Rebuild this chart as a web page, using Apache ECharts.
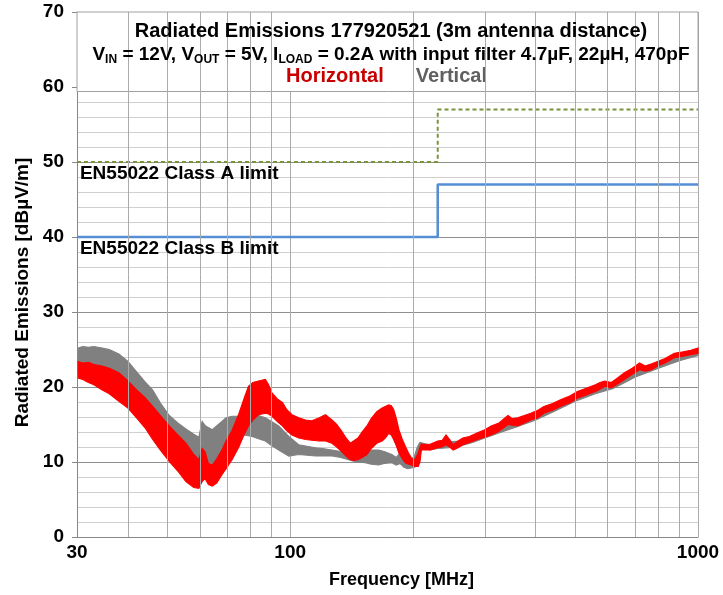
<!DOCTYPE html>
<html>
<head>
<meta charset="utf-8">
<script src="https://cdn.jsdelivr.net/npm/echarts@6/dist/echarts.min.js"></script>
<style>
html,body{margin:0;padding:0;background:#fff;}
#chart{width:723px;height:595px;}
</style>
</head>
<body>
<div id="chart"></div>
<script>
// ---------- data ----------
const xTicks = [30, 100, 1000];
const minorFreqs = [40, 50, 60, 70, 80, 90, 200, 300, 400, 500, 600, 700, 800, 900];

const classAFreq = [30, 230, 230, 1000];
const classALevel = [50, 50, 57, 57];
const classBFreq = [30, 230, 230, 1000];
const classBLevel = [40, 40, 47, 47];

const redFreq = [30.2, 31, 32, 33, 34.6, 36, 38, 40, 42, 44, 46, 48, 50.5, 53, 55.5, 58, 59.7, 60.8, 61.8, 63, 64.4, 66, 68, 69.6, 72, 74.8, 77, 79, 81, 83.6, 86.9, 88.5, 90.2, 93, 95.8, 98, 101, 105, 109, 113, 117.8, 122, 126.6, 130, 133.8, 137, 140.4, 143, 146.6, 150, 154.2, 158, 163, 168, 171, 174.4, 177, 179.3, 182, 184.7, 188, 191.5, 195, 198.5, 202, 206, 208, 209.7, 215, 221, 230, 236, 241, 246, 251, 258, 265, 275, 288, 300, 311, 325, 342, 350, 361, 375, 389, 405, 419, 440, 460, 485, 506, 530, 560, 575, 591, 613, 635, 660, 690, 719, 742, 770, 796, 830, 875, 920, 960, 1000];
const redUpper = [23.4, 23.2, 23.3, 23.0, 22.8, 22.5, 21.9, 20.8, 19.6, 18.6, 17.4, 16.2, 14.8, 13.6, 12.5, 11.0, 10.3, 11.8, 11.4, 9.8, 9.6, 10.4, 11.6, 12.8, 14.2, 16.4, 18.4, 20.1, 20.6, 20.8, 21.0, 20.3, 19.2, 18.4, 17.9, 17.0, 16.3, 15.9, 15.6, 15.5, 15.9, 16.3, 15.6, 15.0, 14.1, 13.2, 12.5, 12.8, 13.2, 14.0, 14.8, 15.8, 16.7, 17.2, 17.4, 17.6, 17.5, 17.0, 15.8, 14.3, 13.1, 12.1, 11.2, 10.5, 10.3, 11.2, 12.0, 12.4, 12.3, 12.4, 12.8, 12.9, 13.6, 13.0, 12.3, 12.8, 13.2, 13.4, 13.9, 14.3, 14.8, 15.2, 16.2, 15.8, 15.9, 16.2, 16.5, 16.9, 17.4, 17.8, 18.3, 18.8, 19.4, 19.8, 20.3, 20.6, 20.8, 20.6, 21.2, 21.9, 22.5, 23.2, 22.8, 23.1, 23.4, 23.8, 24.5, 24.7, 24.9, 25.2];
const redLower = [21.2, 21.0, 20.6, 20.3, 19.6, 19.1, 18.1, 17.2, 15.9, 14.6, 13.0, 11.6, 10.1, 8.8, 7.4, 6.6, 6.5, 7.4, 7.8, 7.0, 6.8, 7.2, 8.3, 9.1, 10.3, 12.0, 13.6, 14.8, 15.6, 16.3, 16.5, 16.4, 16.1, 15.4, 14.8, 14.2, 13.6, 13.2, 13.0, 12.9, 12.8, 12.8, 12.5, 12.0, 11.4, 10.8, 10.3, 10.2, 10.3, 10.6, 11.0, 11.8, 12.5, 12.8, 13.2, 13.8, 13.6, 13.0, 12.2, 11.2, 10.5, 9.9, 9.7, 9.6, 9.4, 9.4, 10.0, 11.6, 11.6, 11.6, 11.9, 12.0, 12.3, 12.0, 11.6, 11.9, 12.3, 12.6, 13.0, 13.3, 13.6, 14.1, 15.0, 14.9, 14.8, 15.2, 15.6, 15.9, 16.5, 16.9, 17.4, 17.9, 18.5, 18.9, 19.4, 19.7, 20.1, 19.9, 20.4, 21.0, 21.7, 22.3, 22.1, 22.3, 22.8, 23.2, 23.9, 24.1, 24.3, 24.5];

const grayFreq = [30.2, 31, 32, 33, 34.6, 36, 38, 40, 42, 44, 46, 48, 50.5, 53, 55.5, 58, 59.7, 60.8, 62, 64.4, 66, 68, 69.6, 72, 74.8, 77, 80.6, 83.6, 86.9, 90, 93.7, 99.2, 104.9, 110, 115.3, 120, 126.6, 133, 139, 145, 152.7, 158, 164.7, 170, 177.5, 182, 186, 190, 194, 198, 202, 205, 208, 212, 220, 230, 245, 260, 280, 300, 330, 360, 400, 450, 500, 560, 620, 700, 800, 900, 1000];
const grayUpper = [25.2, 25.4, 25.3, 25.4, 25.2, 25.0, 24.4, 23.4, 22.0, 20.7, 19.6, 17.9, 16.2, 15.2, 14.4, 13.7, 13.3, 15.4, 14.8, 14.3, 14.8, 15.4, 15.9, 16.1, 16.1, 16.2, 16.3, 16.2, 15.9, 15.4, 14.8, 13.4, 12.3, 12.1, 11.9, 11.8, 11.6, 11.4, 11.2, 11.6, 11.9, 11.6, 11.6, 11.4, 11.0, 10.6, 11.2, 10.4, 10.1, 10.3, 10.9, 12.0, 12.6, 12.5, 12.3, 12.6, 12.7, 12.8, 13.3, 14.0, 14.8, 15.5, 16.4, 17.7, 18.9, 19.9, 20.6, 22.1, 23.3, 24.3, 25.0];
const grayLower = [22.0, 22.5, 22.5, 22.3, 22.0, 21.6, 21.0, 19.8, 18.6, 17.6, 16.4, 15.2, 13.8, 12.6, 11.6, 10.3, 10.0, 10.6, 10.2, 9.6, 10.0, 11.0, 11.8, 12.6, 13.4, 13.6, 13.4, 13.1, 12.8, 12.2, 11.6, 10.8, 11.0, 10.9, 10.8, 10.8, 10.8, 10.6, 10.3, 10.0, 9.9, 9.7, 9.6, 9.8, 9.9, 9.6, 9.8, 9.3, 9.1, 9.2, 9.3, 10.4, 11.5, 11.8, 11.6, 11.8, 11.9, 12.1, 12.6, 13.2, 14.0, 14.7, 15.6, 16.9, 18.1, 19.1, 19.8, 21.3, 22.5, 23.5, 24.2];

// ---------- chart ----------
const FONT = '"Liberation Sans", Arial, sans-serif';
const chart = echarts.init(document.getElementById('chart'));

function bandRenderer(freq, up, lo, color) {
  return function (params, api) {
    if (params.dataIndex !== 0) return null;
    const pts = [];
    for (let i = 0; i < freq.length; i++) pts.push(api.coord([freq[i], up[i]]));
    for (let i = freq.length - 1; i >= 0; i--) pts.push(api.coord([freq[i], lo[i]]));
    return {
      type: 'polygon',
      shape: { points: pts },
      style: { fill: color, stroke: color, lineWidth: 1.2 }
    };
  };
}

const option = {
  animation: false,
  backgroundColor: '#fff',
  textStyle: { fontFamily: FONT },
  grid: { left: 77, right: 25, top: 12, bottom: 58 },
  title: {
    left: 386, top: 15, textAlign: 'center',
    text: '{h|Radiated Emissions 177920521 (3m antenna distance)}\n{b|V}{s|IN}{b| = 12V, V}{s|OUT}{b| = 5V, I}{s|LOAD}{b| = 0.2A with input filter 4.7µF, 22µH, 470pF}',
    textStyle: {
      fontFamily: FONT,
      rich: {
        h: { fontFamily: FONT, fontWeight: 'bold', fontSize: 20, color: '#000', lineHeight: 23 },
        b: { fontFamily: FONT, fontWeight: 'bold', fontSize: 19, color: '#000', lineHeight: 23 },
        s: { fontFamily: FONT, fontWeight: 'bold', fontSize: 12, color: '#000', lineHeight: 23, padding: [10, 0, 0, 0] }
      }
    }
  },
  legend: {
    top: 61, left: 281, itemWidth: 0, itemHeight: 0, itemGap: 32,
    textStyle: { fontFamily: FONT, fontWeight: 'bold', fontSize: 20, padding: [0, 0, 0, -5] },
    data: [
      { name: 'Horizontal', icon: 'none', textStyle: { color: '#C80000' } },
      { name: 'Vertical', icon: 'none', textStyle: { color: '#606060' } }
    ],
    selectedMode: false
  },
  xAxis: {
    type: 'log', logBase: 10, min: 30, max: 1000,
    name: 'Frequency [MHz]', nameLocation: 'middle', nameGap: 34,
    nameTextStyle: { fontFamily: FONT, fontWeight: 'bold', fontSize: 18, color: '#000', padding: [0, 0, 0, 28] },
    axisLine: { show: true, lineStyle: { color: '#888', width: 1 } },
    axisTick: { show: false },
    axisLabel: {
      fontFamily: FONT, fontWeight: 'bold', fontSize: 19, color: '#000', margin: 6,
      formatter: function (v) { const r = Math.round(v); return xTicks.indexOf(r) >= 0 ? String(r) : ''; }
    },
    splitLine: { show: true, lineStyle: { color: '#ABABAB', width: 1 } }
  },
  yAxis: {
    type: 'value', min: 0, max: 70, interval: 10,
    name: 'Radiated Emissions [dBµV/m]', nameLocation: 'middle', nameGap: 45,
    nameTextStyle: { fontFamily: FONT, fontWeight: 'bold', fontSize: 19, color: '#000', padding: [0, 36, 0, 0] },
    axisLine: { show: true, lineStyle: { color: '#888', width: 1 } },
    axisTick: { show: true, length: 5, lineStyle: { color: '#888' } },
    axisLabel: { fontFamily: FONT, fontWeight: 'bold', fontSize: 19, color: '#000', margin: 13 },
    splitLine: { show: true, lineStyle: { color: '#8F8F8F', width: 1 } },
    minorTick: { show: false, splitNumber: 5 },
    minorSplitLine: { show: true, lineStyle: { color: '#D0D0D0', width: 1 } }
  },
  series: [
    {
      name: 'minorGrid', type: 'line', data: [], z: 1, silent: true,
      markLine: {
        silent: true, symbol: ['none', 'none'], animation: false,
        label: { show: false },
        lineStyle: { color: '#ABABAB', width: 1, type: 'solid' },
        data: minorFreqs.map(f => ({ xAxis: f }))
      }
    },
    {
      name: 'Vertical', type: 'custom', z: 2,
      renderItem: bandRenderer(grayFreq, grayUpper, grayLower, '#808080'),
      encode: { x: 0, y: [1, 2] },
      itemStyle: { color: '#808080' },
      data: grayFreq.map((f, i) => [f, grayLower[i], grayUpper[i]])
    },
    {
      name: 'Horizontal', type: 'custom', z: 2,
      renderItem: bandRenderer(redFreq, redUpper, redLower, '#FF0000'),
      encode: { x: 0, y: [1, 2] },
      itemStyle: { color: '#FF0000' },
      data: redFreq.map((f, i) => [f, redLower[i], redUpper[i]])
    },
    {
      name: 'Class A', type: 'line', z: 2, showSymbol: false, symbol: 'none',
      lineStyle: { color: '#77933C', width: 2, type: [4, 3] },
      data: classAFreq.map((f, i) => [f, classALevel[i]]),
      markPoint: {
        silent: true, animation: false,
        data: [{
          coord: [classAFreq[0], classALevel[0]], symbol: 'circle', symbolSize: 0.1,
          itemStyle: { color: 'rgba(0,0,0,0)' },
          label: { show: true, formatter: 'EN55022 Class A limit', position: [3, 2], align: 'left', verticalAlign: 'top',
            fontFamily: FONT, fontWeight: 'bold', fontSize: 19, color: '#000' }
        }]
      }
    },
    {
      name: 'Class B', type: 'line', z: 2, showSymbol: false, symbol: 'none',
      lineStyle: { color: '#558ED5', width: 2.5, type: 'solid' },
      data: classBFreq.map((f, i) => [f, classBLevel[i]]),
      markPoint: {
        silent: true, animation: false,
        data: [{
          coord: [classBFreq[0], classBLevel[0]], symbol: 'circle', symbolSize: 0.1,
          itemStyle: { color: 'rgba(0,0,0,0)' },
          label: { show: true, formatter: 'EN55022 Class B limit', position: [3, 2], align: 'left', verticalAlign: 'top',
            fontFamily: FONT, fontWeight: 'bold', fontSize: 19, color: '#000' }
        }]
      }
    },
    {
      name: 'titleBox', type: 'line', data: [], z: 3, silent: true,
      markArea: {
        silent: true, animation: false,
        itemStyle: { color: '#FFFFFF', borderColor: '#A0A0A0', borderWidth: 1 },
        data: [[{ xAxis: 30, yAxis: 59.4 }, { xAxis: 1000, yAxis: 70 }]]
      }
    }
  ]
};
chart.setOption(option);
</script>
</body>
</html>
